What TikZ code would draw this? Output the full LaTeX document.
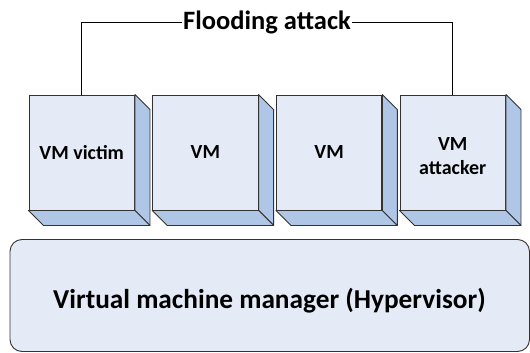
\documentclass[tikz,border=0pt]{standalone}
\usepackage{fontspec}
\usetikzlibrary{calc}
\setmainfont{Carlito}
\definecolor{frontc}{RGB}{228,235,246}
\definecolor{sidec}{RGB}{176,198,230}
\definecolor{edgec}{RGB}{50,50,50}
\begin{document}
\begin{tikzpicture}[x=1pt,y=-1pt,
  vmbox/.style={draw=edgec,line width=0.9pt,fill=frontc,minimum width=105.5pt,minimum height=115pt,inner sep=0pt,align=center,font=\bfseries\fontsize{20}{24.5}\selectfont},
  vmtext/.style={align=center,inner sep=0pt,font=\bfseries\fontsize{20}{24.5}\selectfont},
  sideface/.style={draw=edgec,line width=0.9pt,fill=sidec,line join=round},
  link/.style={draw=black,line width=0.8pt}]
\useasboundingbox (0,0) rectangle (530,353);
% hypervisor
\node[draw=edgec,line width=0.9pt,fill=frontc,rounded corners=12pt,minimum width=519.5pt,minimum height=112pt,inner sep=0pt] (hv) at (269.75,295.5) {};
\node[font=\bfseries\fontsize{27.3}{32}\selectfont] (hvtext) at (269.5,300.5) {Virtual machine manager (Hypervisor)};
% VM boxes
\foreach \n/\x/\t in {v1/81.75/VM victim, v2/205.4/VM, v3/329.1/VM, v4/452.75/{}} {
  \node[vmbox] (\n) at (\x,152.5) {\t};
  \filldraw[sideface] (\n.north east) -- ++(15,15) -- ($(\n.south east)+(15,15)$) -- (\n.south east) -- cycle;
  \filldraw[sideface] (\n.south west) -- ++(15,15) -- ($(\n.south east)+(15,15)$) -- (\n.south east) -- cycle;
}
\node[vmtext] (v4t) at ([yshift=-3.5pt]v4.center) {VM\\attacker};
% flooding attack
\node[font=\bfseries\fontsize{26.5}{30}\selectfont,inner sep=1pt] (flood) at (267,22) {Flooding attack};
\draw[link] (v1.north) |- (flood.west);
\draw[link] (flood.east) -| (v4.north);
\end{tikzpicture}
\end{document}
